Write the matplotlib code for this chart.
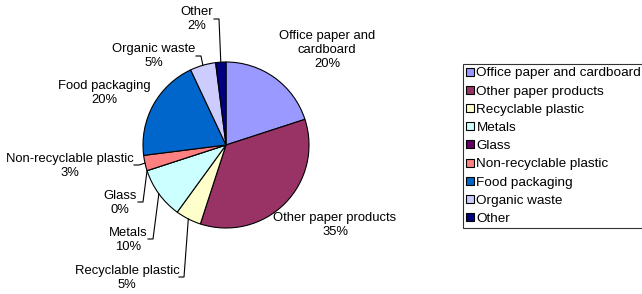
import numpy as np
import matplotlib
matplotlib.use('Agg')
import matplotlib.pyplot as plt
from matplotlib.patches import Patch

plt.rcParams['font.family'] = ['Liberation Sans', 'DejaVu Sans']

# data
categories = ['Office paper and cardboard', 'Other paper products', 'Recyclable plastic',
              'Metals', 'Glass', 'Non-recyclable plastic', 'Food packaging',
              'Organic waste', 'Other']
values = [20, 35, 5, 10, 0, 3, 20, 5, 2]
colors = ['#9999FF', '#993366', '#FFFFCC', '#CCFFFF', '#660066',
          '#FF8080', '#0066CC', '#CCCCFF', '#000080']
label_text = ['Office paper and\ncardboard', 'Other paper products', 'Recyclable plastic',
              'Metals', 'Glass', 'Non-recyclable plastic', 'Food packaging',
              'Organic waste', 'Other']

W, H = 642, 294
cx, cy, r = 226, 145, 83   # pie centre / radius in pixels (y from top)

# label placement (pixel, y from top) and where leader line starts (None = no line)
label_pos = [(327, 50), (335, 225), (127, 278), (128, 240), (120, 203),
             (70, 166), (104, 93), (154, 56), (197, 19)]
line_start = [None, None, (179, 277), (148, 239), (138, 202),
              (134, 165), None, (196, 56), (214, 19)]

fig = plt.figure(figsize=(W / 100, H / 100), dpi=100)
ax = fig.add_axes([0, 0, 1, 1])

wedges, _ = ax.pie(values, colors=colors, startangle=90, counterclock=False,
                   center=(cx, H - cy), radius=r,
                   wedgeprops=dict(edgecolor='black', linewidth=0.8))
ax.set_xlim(0, W)
ax.set_ylim(0, H)
ax.axis('off')

total = sum(values)
cum = 0
for i, v in enumerate(values):
    mid = 90 - 360 * (cum + v / 2) / total
    cum += v
    px = cx + r * np.cos(np.radians(mid))
    py = cy - r * np.sin(np.radians(mid))
    lx, ly = label_pos[i]
    ax.text(lx, H - ly, f'{label_text[i]}\n{v}%', ha='center', va='center',
            multialignment='center', fontsize=9.4, linespacing=1.2)
    if line_start[i] is not None:
        sx, sy = line_start[i]
        ax.plot([sx, sx + 5, px], [H - sy, H - sy, H - py], color='black', lw=0.8)

handles = [Patch(facecolor=c, edgecolor='black', linewidth=0.8) for c in colors]
leg = ax.legend(handles, categories, loc='upper left',
                bbox_to_anchor=(463 / W, 1 - 64 / H), borderaxespad=0,
                fontsize=9.7, frameon=True, fancybox=False, edgecolor='black',
                handlelength=0.55, handleheight=0.55, handletextpad=0.2,
                labelspacing=0.46, borderpad=0.25)
leg.get_frame().set_linewidth(0.8)

fig.savefig('out.png', dpi=100)
